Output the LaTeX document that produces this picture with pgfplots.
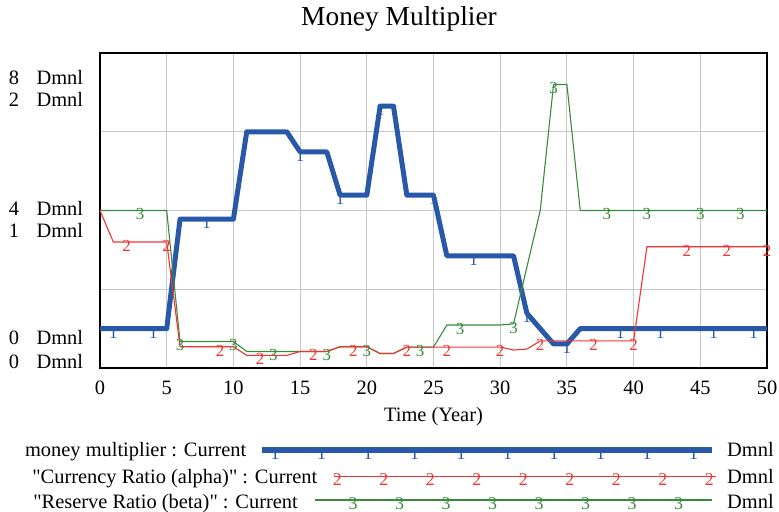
\documentclass[border=0pt]{standalone}
\usepackage{fontspec}
\setmainfont{Liberation Serif}
\newfontfamily\plainfont{Liberation Serif}
\usepackage{pgfplots}
\pgfplotsset{compat=1.18}
\usetikzlibrary{plotmarks}
\definecolor{mmblue}{RGB}{40,88,168}
\definecolor{crred}{RGB}{245,50,50}
\definecolor{rrgreen}{RGB}{55,140,60}
\definecolor{gridgray}{RGB}{200,200,200}
\newcommand{\lbl}{\fontsize{20.5}{24}\selectfont}
\newcommand{\mk}{\fontsize{17}{20}\selectfont}
\newcommand{\lmk}{\fontsize{18}{21}\selectfont}
\newcommand{\yl}[2]{#1\hspace{17.6bp}#2}
\newcommand{\q}{{\plainfont"}}
\pgfplotsset{
  markstyle/.style={only marks, mark=text, text mark as node=true,
    text mark style={anchor=north, inner sep=0pt, yshift=2bp, font=\mk}},
  lmarkstyle/.style={only marks, mark=text, text mark as node=true,
    text mark style={anchor=north, inner sep=0pt, yshift=3bp, font=\lmk}},
}
\begin{document}
\begin{tikzpicture}
\useasboundingbox (0bp,0bp) rectangle (779bp,512bp);
% ---------- main axis: money multiplier (0-8) ----------
\begin{axis}[
  at={(100bp,144bp)}, anchor=south west,
  width=667bp, height=315bp, scale only axis,
  xmin=0, xmax=50, ymin=0, ymax=8,
  clip=false,
  axis line style={line width=2.6bp, black},
  xtick={0,5,...,50},
  ytick={0,2,4,6,8},
  yticklabels={{\raisebox{23.7bp}{\yl{0}{Dmnl}}},{},{\raisebox{-4.5bp}{\yl{4}{Dmnl}}},{},{\raisebox{-31.3bp}{\yl{8}{Dmnl}}}},
  major tick length=0pt,
  grid=major, grid style={gridgray, line width=1bp},
  /pgf/number format/assume math mode=true,
  xticklabel style={anchor=base, yshift=-27bp, font=\lbl},
  yticklabel style={anchor=base east, inner sep=0pt, xshift=-16.7bp, font=\lbl},
  xlabel={Time (Year)},
  xlabel style={at={(axis description cs:0.5,0)}, anchor=base, yshift=-53bp, font=\lbl},
  title={Money Multiplier},
  title style={at={(axis description cs:0.4483,1)}, anchor=base, yshift=21.3bp, font=\fontsize{27.5}{32}\selectfont},
]
\addplot[mmblue, line width=5bp, line join=round] coordinates {
(0,1.0) (5,1.0) (6,3.78) (10,3.78) (11,6.0) (14,6.0) (15,5.49) (17,5.49)
(18,4.39) (20,4.39) (21,6.65) (22,6.65) (23,4.39) (25,4.39) (26,2.85)
(31,2.85) (32,1.39) (34,0.61) (35,0.61) (36,1.0) (50,1.0)};
\addplot[mmblue, markstyle, text mark={1}] coordinates {
(1,1.0) (4,1.0) (8,3.78) (15,5.49) (18,4.39) (21,6.65) (25,4.39) (28,2.85)
(32,1.39) (35,0.61) (39,1.0) (42,1.0) (46,1.0) (49,1.0)};
\end{axis}
% ---------- second axis: ratios (0-2) ----------
\begin{axis}[
  at={(100bp,144bp)}, anchor=south west,
  width=667bp, height=315bp, scale only axis,
  xmin=0, xmax=50, ymin=0, ymax=2,
  clip=false,
  axis line style={draw=none},
  xtick=\empty,
  ytick={0,1,2},
  yticklabels={{\raisebox{-0.3bp}{\yl{0}{Dmnl}}},{\raisebox{-27.2bp}{\yl{1}{Dmnl}}},{\raisebox{-53.7bp}{\yl{2}{Dmnl}}}},
  major tick length=0pt,
  yticklabel style={anchor=base east, inner sep=0pt, xshift=-16.7bp, font=\lbl},
]
\addplot[rrgreen, line width=1.1bp] coordinates {
(0,1.0) (5,1.0) (6,0.168) (10,0.168) (11,0.105) (17,0.105) (18,0.135)
(20,0.135) (21,0.092) (22,0.092) (23,0.133) (25,0.133) (26,0.273) (30,0.273)
(31,0.28) (33,1.0) (34,1.8) (35,1.8) (36,1.0) (50,1.0)};
\addplot[crred, line width=1.1bp] coordinates {
(0,1.0) (1,0.80) (5,0.80) (6,0.135) (10,0.135) (11,0.08) (14,0.08) (15,0.105)
(17,0.105) (18,0.135) (20,0.135) (21,0.092) (22,0.092) (23,0.133) (30,0.133)
(31,0.114) (32,0.12) (33,0.172) (40,0.172) (41,0.77) (50,0.77)};
\addplot[rrgreen, markstyle, text mark={3}] coordinates {
(3,1.0) (6,0.168) (10,0.168) (13,0.105) (17,0.105) (20,0.135) (24,0.133)
(27,0.273) (31,0.28) (34,1.8) (38,1.0) (41,1.0) (45,1.0) (48,1.0)};
\addplot[crred, markstyle, text mark={2}] coordinates {
(2,0.80) (5,0.80) (9,0.135) (12,0.08) (16,0.105) (19,0.135) (23,0.133)
(26,0.133) (30,0.133) (33,0.172) (37,0.172) (40,0.172) (44,0.77) (47,0.77) (50,0.77)};
\end{axis}
% ---------- legend ----------
\begin{axis}[
  at={(0bp,0bp)}, anchor=south west,
  width=779bp, height=512bp, scale only axis,
  xmin=0, xmax=779, ymin=0, ymax=512,
  hide axis, clip=false,
]
\node[anchor=base east, inner sep=0pt, font=\lbl] at (axis cs:246.5,55.3) {money multiplier : Current};
\node[anchor=base east, inner sep=0pt, font=\lbl] at (axis cs:317.5,28.7) {\q Currency Ratio (alpha)\q{} : Current};
\node[anchor=base east, inner sep=0pt, font=\lbl] at (axis cs:298,4) {\q Reserve Ratio (beta)\q{} : Current};
\node[anchor=base west, inner sep=0pt, font=\lbl] at (axis cs:727,55.3) {Dmnl};
\node[anchor=base west, inner sep=0pt, font=\lbl] at (axis cs:727,28.7) {Dmnl};
\node[anchor=base west, inner sep=0pt, font=\lbl] at (axis cs:727,4) {Dmnl};
\addplot[mmblue, line width=6bp] coordinates {(262,62) (712,62)};
\addplot[mmblue, lmarkstyle, text mark={1}] coordinates {
(275,62) (321.5,62) (368,62) (414.5,62) (461,62) (507.5,62) (554,62) (600.5,62) (647,62) (693.5,62)};
\addplot[crred, line width=1.1bp] coordinates {(334,35.3) (716,35.3)};
\addplot[crred, lmarkstyle, text mark={2}] coordinates {
(337.3,35.3) (383.8,35.3) (430.3,35.3) (476.8,35.3) (523.3,35.3) (569.8,35.3) (616.3,35.3) (662.8,35.3) (709.3,35.3)};
\addplot[rrgreen, line width=1.1bp] coordinates {(315,12) (712,12)};
\addplot[rrgreen, lmarkstyle, text mark={3}] coordinates {
(353,12) (399.5,12) (446,12) (492.5,12) (539,12) (585.5,12) (632,12) (678.5,12)};
\end{axis}
\end{tikzpicture}
\end{document}
